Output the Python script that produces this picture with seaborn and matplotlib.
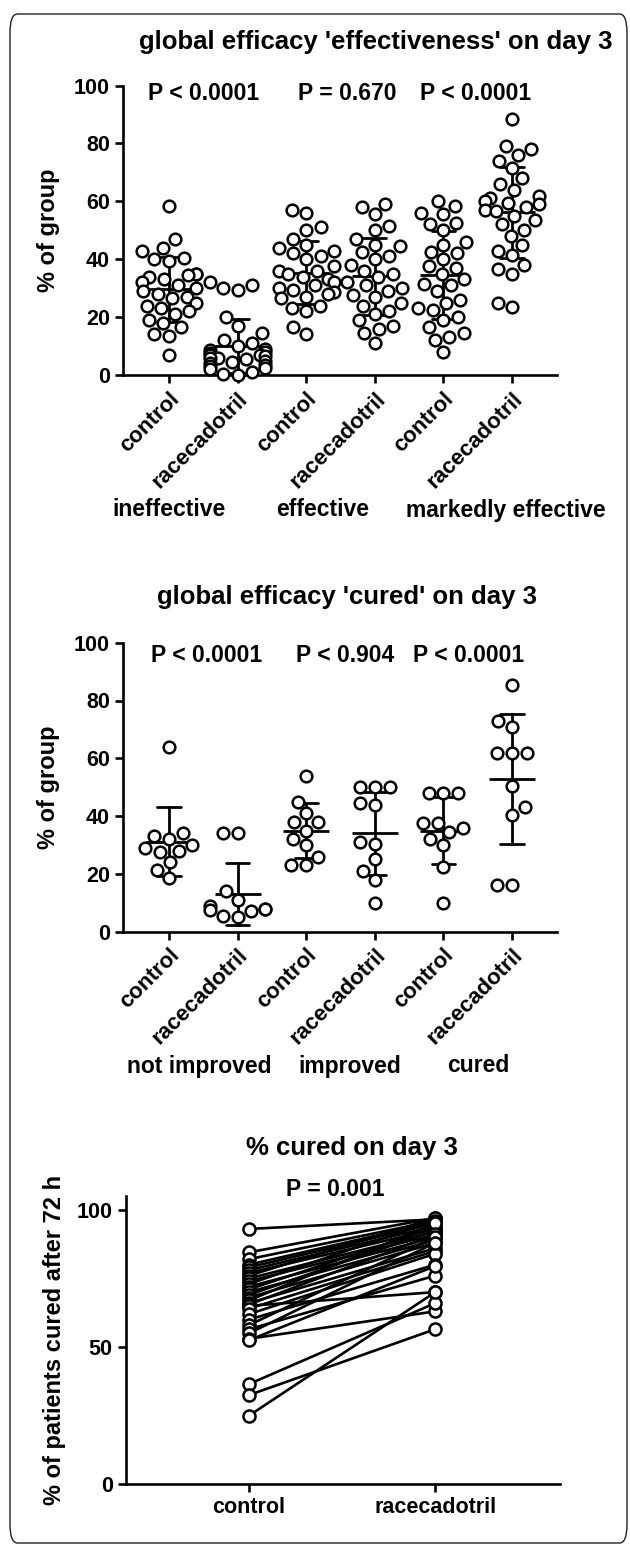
import numpy as np
import pandas as pd
import matplotlib
matplotlib.use("Agg")
import matplotlib.pyplot as plt
import seaborn as sns
from matplotlib.patches import FancyBboxPatch

sns.set_theme(style="ticks")
plt.rcParams['font.family'] = ['Liberation Sans', 'DejaVu Sans']
plt.rcParams['font.weight'] = 'bold'
plt.rcParams['axes.labelweight'] = 'bold'
for k in ['text.color', 'axes.labelcolor', 'xtick.color', 'ytick.color', 'axes.edgecolor']:
    plt.rcParams[k] = 'black'

# ---------------- data ----------------
tick_labels = ["control", "racecadotril"] * 3

# panel 1: global efficacy 'effectiveness' on day 3 (% of group)
p1_groups = ["ineffective", "effective", "markedly effective"]
p1_pvalues = ["P < 0.0001", "P = 0.670", "P < 0.0001"]
ineff_ctrl = [58.5, 47, 44, 43, 40.5, 40, 39.5, 35, 35, 34.5, 34, 33, 32, 31, 30, 29, 28, 27,
              26.5, 25, 24, 23, 22, 21, 19, 18, 16.5, 14, 13.5, 7]
ineff_race = [32, 31, 30, 29.5, 20, 17, 14.5, 12, 11, 10, 9, 8.5, 8, 7.5, 7, 7, 6.5, 6, 6,
              5.5, 5, 4.5, 4, 3.5, 3, 2.5, 2, 1, 0.5, 0]
eff_ctrl = [57, 56, 51, 50, 47, 45, 44, 43, 42, 41, 40, 37.5, 36, 36, 35, 34, 33, 32, 31, 30,
            29.5, 28.5, 28, 27, 26.5, 24, 23, 22, 16.5, 14]
eff_race = [59, 58, 55.5, 51.5, 50, 47, 45, 44.5, 42.5, 41, 40, 38, 36, 35, 34, 32, 31, 30, 29,
            27.5, 27, 25, 24, 22, 21, 19, 17, 16, 14.5, 11]
mark_ctrl = [60, 58.5, 56, 55.5, 52.5, 52, 50, 46, 45, 42.5, 42, 40, 37.5, 37, 35, 33, 31.5, 31,
             29, 26, 25, 23, 22.5, 20, 19, 16.5, 14.5, 13, 12, 8]
mark_race = [88.5, 79, 78, 76, 74, 71.5, 68, 66, 64, 62, 61, 60, 59.5, 59, 58, 57, 56.5, 55,
             53.5, 52, 50, 48, 45, 43, 41.5, 38, 36.5, 35, 25, 23.5]

# panel 2: global efficacy 'cured' on day 3 (% of group)
p2_groups = ["not improved", "improved", "cured"]
p2_pvalues = ["P < 0.0001", "P < 0.904", "P < 0.0001"]
notimp_ctrl = [64, 34, 33, 32, 30, 29, 28, 27.5, 24, 21.5, 18.5]
notimp_race = [34, 34, 14, 11, 9, 8, 8, 7.5, 7, 5.5, 5]
imp_ctrl = [54, 45, 41, 38, 38, 35, 32, 30, 26, 23, 23]
imp_race = [50, 50, 50, 44.5, 44, 31, 30.5, 25, 21, 18, 10]
cur_ctrl = [48, 48, 48, 37.5, 37.5, 36, 34.5, 32, 30, 22.5, 10]
cur_race = [85.5, 73, 71, 62, 62, 62, 50.5, 43, 40.5, 16, 16]

# panel 3: % cured on day 3, paired per study
p3_categories = ["control", "racecadotril"]
p3_pvalue = "P = 0.001"
cured_ctrl = [93, 84.5, 82, 80, 79, 78, 77, 76, 75, 74, 73, 72, 71, 70, 69, 68, 67, 66,
              65.5, 65, 64, 62, 60, 58, 56.5, 55, 53, 52.5, 36.5, 32.5, 25]
cured_race = [96.5, 97, 96, 95.5, 95, 94, 93, 97, 92, 91, 96, 90, 93.5, 89, 92.5, 88, 95, 86,
              91, 70, 85, 84, 80, 90, 76, 88, 63, 79.5, 66, 56.5, 70]

# ---------------- helpers ----------------
W, H = 630, 1546
fig = plt.figure(figsize=(W / 100, H / 100), dpi=100)


def fx(x):
    return x / W


def fy(y):
    return 1 - y / H


def add_axes(left, right, top, bottom):
    return fig.add_axes([fx(left), fy(bottom), fx(right) - fx(left), fy(top) - fy(bottom)])


LW = 1.9
TICKFS = 15.5


def style_axes(ax):
    sns.despine(ax=ax)
    for s in ["left", "bottom"]:
        ax.spines[s].set_linewidth(LW)
        ax.spines[s].set_color("black")
    ax.tick_params(axis="both", width=LW, length=6, color="black", labelsize=TICKFS,
                   direction="out", labelcolor="black")
    for lab in ax.get_yticklabels():
        lab.set_fontweight("bold")


def scatter_panel(ax, slots, values_list):
    df = pd.DataFrame({
        "slot": np.repeat(slots, [len(v) for v in values_list]),
        "value": np.concatenate([np.asarray(v, float) for v in values_list]),
    })
    sns.pointplot(data=df, x="slot", y="value", order=slots, errorbar="sd",
                  color="black", linestyle="none", marker="_", markersize=33,
                  markeredgewidth=2.0, capsize=0.34, err_kws={"linewidth": 2.0},
                  ax=ax, zorder=2)
    sns.swarmplot(data=df, x="slot", y="value", order=slots, size=8.4,
                  color="white", edgecolor="black", linewidth=1.8, ax=ax,
                  zorder=3, warn_thresh=1.0)
    for c in ax.collections:
        c.set_clip_on(False)
    for l in ax.lines:
        l.set_clip_on(False)


# ---------------- panel 1 ----------------
ax1 = add_axes(123, 557, 85.5, 375)
slots1 = [f"{g} {t}" for g in p1_groups for t in ["control", "racecadotril"]]
scatter_panel(ax1, slots1, [ineff_ctrl, ineff_race, eff_ctrl, eff_race, mark_ctrl, mark_race])
ax1.set_xlim(-0.671, 5.656)
ax1.set_ylim(0, 100)
ax1.set_yticks([0, 20, 40, 60, 80, 100])
ax1.set_xlabel("")
ax1.set_ylabel("% of group", fontsize=17, fontweight="bold", labelpad=10)
style_axes(ax1)
ax1.set_xticks(range(6))
ax1.set_xticklabels(tick_labels, rotation=45, ha="right", va="top",
                    rotation_mode="anchor", fontsize=16, fontweight="bold")

fig.text(fx(376), fy(42), "global efficacy 'effectiveness' on day 3", ha="center",
         va="center", fontsize=18.5, fontweight="bold")
for x, p in zip([204, 347, 476], p1_pvalues):
    fig.text(fx(x), fy(93), p, ha="center", va="center", fontsize=16.5, fontweight="bold")
for x, g in zip([169, 323, 506], p1_groups):
    fig.text(fx(x), fy(510), g, ha="center", va="center", fontsize=16.5, fontweight="bold")

# ---------------- panel 2 ----------------
ax2 = add_axes(123, 557, 642.7, 931.7)
slots2 = [f"{g} {t}" for g in p2_groups for t in ["control", "racecadotril"]]
scatter_panel(ax2, slots2, [notimp_ctrl, notimp_race, imp_ctrl, imp_race, cur_ctrl, cur_race])
ax2.set_xlim(-0.671, 5.656)
ax2.set_ylim(0, 100)
ax2.set_yticks([0, 20, 40, 60, 80, 100])
ax2.set_xlabel("")
ax2.set_ylabel("% of group", fontsize=17, fontweight="bold", labelpad=10)
style_axes(ax2)
ax2.set_xticks(range(6))
ax2.set_xticklabels(tick_labels, rotation=45, ha="right", va="top",
                    rotation_mode="anchor", fontsize=16, fontweight="bold")

fig.text(fx(347), fy(597), "global efficacy 'cured' on day 3", ha="center",
         va="center", fontsize=18.5, fontweight="bold")
for x, p in zip([207, 345, 469], p2_pvalues):
    fig.text(fx(x), fy(655), p, ha="center", va="center", fontsize=16.5, fontweight="bold")
for x, g in zip([199, 350, 478], p2_groups):
    fig.text(fx(x), fy(1066), g, ha="center", va="center", fontsize=16.5, fontweight="bold")

# ---------------- panel 3 ----------------
ax3 = add_axes(126, 560, 1196, 1484.3)
n = len(cured_ctrl)
df3 = pd.DataFrame({
    "study": np.tile(np.arange(n), 2),
    "arm": np.repeat(p3_categories, n),
    "pct": np.concatenate([cured_ctrl, cured_race]),
})
df3["pos"] = df3["arm"].map({c: i for i, c in enumerate(p3_categories)})
sns.lineplot(data=df3, x="pos", y="pct", units="study", estimator=None, color="black",
             linewidth=1.9, marker="o", markersize=8.7, markerfacecolor="white",
             markeredgecolor="black", markeredgewidth=1.8, ax=ax3, legend=False)
for l in ax3.lines:
    l.set_clip_on(False)
ax3.set_xlim(-0.66, 1.669)
ax3.set_ylim(0, 105)
ax3.set_yticks([0, 50, 100])
ax3.set_xticks([0, 1])
ax3.set_xticklabels(p3_categories, fontsize=16, fontweight="bold")
ax3.set_xlabel("")
ax3.set_ylabel("% of patients cured after 72 h", fontsize=17, fontweight="bold", labelpad=8)
style_axes(ax3)
for lab in ax3.get_xticklabels():
    lab.set_fontweight("bold")

fig.text(fx(352), fy(1148), "% cured on day 3", ha="center", va="center",
         fontsize=18.5, fontweight="bold")
fig.text(fx(335), fy(1190), p3_pvalue, ha="center", va="center", fontsize=16.5,
         fontweight="bold")

# ---------------- frame ----------------
frame = FancyBboxPatch((fx(10), fy(1543)), fx(617), 1529 / H,
                       boxstyle="round,pad=0,rounding_size=0.012",
                       transform=fig.transFigure, fill=False, edgecolor="#222222",
                       linewidth=1.0)
fig.patches.append(frame)

fig.savefig("out.png", dpi=100)
